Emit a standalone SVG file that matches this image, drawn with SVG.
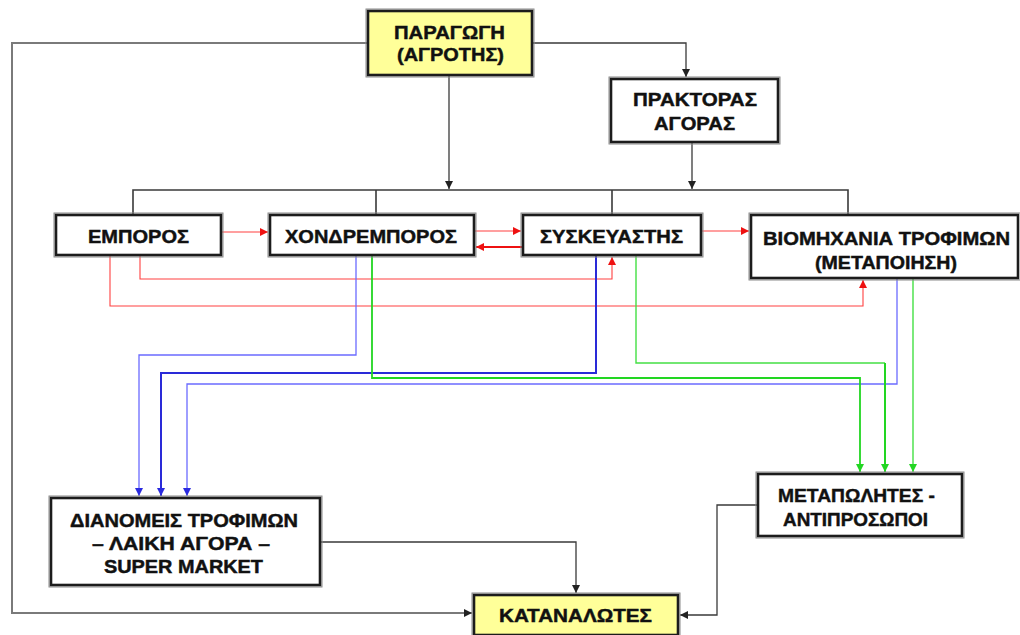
<svg xmlns="http://www.w3.org/2000/svg" width="1020" height="635" viewBox="0 0 1020 635">
<style>
.bg{fill:#ffffff}
.box .o{fill:none;stroke:#8a8a8a;stroke-width:1}
.box .b{fill:#ffffff;stroke:#1c1c1c;stroke-width:2.6}
.box.y .b{fill:#ffff99}
text{font-family:"Liberation Sans",Arial,sans-serif;font-weight:bold;font-size:19px;fill:#111;stroke:#111;stroke-width:0.45}
.k{fill:none;stroke:#3a3a3a;stroke-width:1.3}
.g{fill:none;stroke:#7a7a7a;stroke-width:2}
.r{fill:none;stroke:#ff4040;stroke-width:1.1}
.r2{fill:none;stroke:#ee1111;stroke-width:2}
.bl{fill:none;stroke:#6b6bff;stroke-width:1.3}
.bd{fill:none;stroke:#2a2ad8;stroke-width:2}
.gr{fill:none;stroke:#44e044;stroke-width:1.4}
.gd{fill:none;stroke:#22d622;stroke-width:2}
</style>
<defs>
<marker id="ak" markerUnits="userSpaceOnUse" markerWidth="8" markerHeight="8" refX="8" refY="4" orient="auto"><path d="M0,0 L8,4 L0,8 z" fill="#222"/></marker>
<marker id="ar" markerUnits="userSpaceOnUse" markerWidth="8" markerHeight="8" refX="8" refY="4" orient="auto"><path d="M0,0 L8,4 L0,8 z" fill="#ee1111"/></marker>
<marker id="ab" markerUnits="userSpaceOnUse" markerWidth="8" markerHeight="8" refX="8" refY="4" orient="auto"><path d="M0,0 L8,4 L0,8 z" fill="#2a2ae0"/></marker>
<marker id="ag" markerUnits="userSpaceOnUse" markerWidth="8" markerHeight="8" refX="8" refY="4" orient="auto"><path d="M0,0 L8,4 L0,8 z" fill="#22d622"/></marker>
</defs>
<rect class="bg" x="0" y="0" width="1020" height="635"/>
<g id="connectors">
<path class="g" d="M367,43 H12 V613 H472" marker-end="url(#ak)"/>
<path class="k" d="M533,43 H686 V77" marker-end="url(#ak)"/>
<path class="k" d="M449,76 V189" marker-end="url(#ak)"/>
<path class="k" d="M692,143 V189" marker-end="url(#ak)"/>
<path class="k" d="M133,214 V190 H848 V214 M376,190 V214 M612,190 V214" style="stroke-width:1.6"/>
<path class="k" d="M321,542 H576 V593" marker-end="url(#ak)"/>
<path class="k" d="M757,505 H717 V615 H680" marker-end="url(#ak)"/>
<path class="r" d="M222,232 H268" marker-end="url(#ar)"/>
<path class="r" d="M475,231 H521" marker-end="url(#ar)"/>
<path class="r2" d="M522,247 H476" marker-end="url(#ar)"/>
<path class="r" d="M702,231 H749" marker-end="url(#ar)"/>
<path class="r" d="M140,256 V279 H612 V257" marker-end="url(#ar)"/>
<path class="r" d="M110,256 V306 H863 V280" marker-end="url(#ar)"/>
<path class="bl" d="M356,256 V355 H139 V496" marker-end="url(#ab)"/>
<path class="bd" d="M596,256 V373 H161 V496" marker-end="url(#ab)"/>
<path class="bl" d="M897,279 V384 H187 V496" marker-end="url(#ab)"/>
<path class="gd" d="M372,256 V378 H860 V472" marker-end="url(#ag)" style="stroke-width:1.8"/>
<path class="gr" d="M636,256 V363 H885"/>
<path class="gd" d="M885,363 V472" marker-end="url(#ag)"/>
<path class="gr" d="M913,279 V472" marker-end="url(#ag)"/>
</g>
<g id="paragogi" class="box y">
<rect class="o" x="366" y="9" width="168" height="68"/>
<rect class="b" x="368" y="11" width="164" height="64"/>
<text x="449.5" y="39" text-anchor="middle" textLength="111" lengthAdjust="spacingAndGlyphs">ΠΑΡΑΓΩΓΗ</text>
<text x="450.5" y="61" text-anchor="middle" textLength="107" lengthAdjust="spacingAndGlyphs">(ΑΓΡΟΤΗΣ)</text>
</g>
<g id="praktoras" class="box">
<rect class="o" x="609" y="77" width="171" height="67"/>
<rect class="b" x="611" y="79" width="167" height="63"/>
<text x="695" y="106" text-anchor="middle" textLength="124" lengthAdjust="spacingAndGlyphs">ΠΡΑΚΤΟΡΑΣ</text>
<text x="694.5" y="130" text-anchor="middle" textLength="81" lengthAdjust="spacingAndGlyphs">ΑΓΟΡΑΣ</text>
</g>
<g id="emporos" class="box">
<rect class="o" x="54" y="213" width="169" height="44"/>
<rect class="b" x="56" y="215" width="165" height="40"/>
<text x="138.5" y="243" text-anchor="middle" textLength="101" lengthAdjust="spacingAndGlyphs">ΕΜΠΟΡΟΣ</text>
</g>
<g id="chondremporos" class="box">
<rect class="o" x="268" y="213" width="208" height="44"/>
<rect class="b" x="270" y="215" width="204" height="40"/>
<text x="371" y="243" text-anchor="middle" textLength="172" lengthAdjust="spacingAndGlyphs">ΧΟΝΔΡΕΜΠΟΡΟΣ</text>
</g>
<g id="syskevastis" class="box">
<rect class="o" x="521" y="213" width="182" height="44"/>
<rect class="b" x="523" y="215" width="178" height="40"/>
<text x="611.5" y="243" text-anchor="middle" textLength="143" lengthAdjust="spacingAndGlyphs">ΣΥΣΚΕΥΑΣΤΗΣ</text>
</g>
<g id="viomichania" class="box">
<rect class="o" x="749" y="213" width="272" height="67"/>
<rect class="b" x="751" y="215" width="267" height="63"/>
<text x="886.5" y="245" text-anchor="middle" textLength="247" lengthAdjust="spacingAndGlyphs">ΒΙΟΜΗΧΑΝΙΑ ΤΡΟΦΙΜΩΝ</text>
<text x="886" y="269" text-anchor="middle" textLength="142" lengthAdjust="spacingAndGlyphs">(ΜΕΤΑΠΟΙΗΣΗ)</text>
</g>
<g id="diano" class="box">
<rect class="o" x="49" y="496" width="273" height="91"/>
<rect class="b" x="51" y="498" width="269" height="87"/>
<text x="184" y="527" text-anchor="middle" textLength="228" lengthAdjust="spacingAndGlyphs">ΔΙΑΝΟΜΕΙΣ ΤΡΟΦΙΜΩΝ</text>
<text x="181" y="550" text-anchor="middle" textLength="178" lengthAdjust="spacingAndGlyphs">– ΛΑΙΚΗ ΑΓΟΡΑ –</text>
<text x="183.5" y="573" text-anchor="middle" textLength="159" lengthAdjust="spacingAndGlyphs">SUPER MARKET</text>
</g>
<g id="metapolites" class="box">
<rect class="o" x="756" y="472" width="208" height="66"/>
<rect class="b" x="758" y="474" width="204" height="62"/>
<text x="856.5" y="502" text-anchor="middle" textLength="157" lengthAdjust="spacingAndGlyphs">ΜΕΤΑΠΩΛΗΤΕΣ -</text>
<text x="855.5" y="526" text-anchor="middle" textLength="145" lengthAdjust="spacingAndGlyphs">ΑΝΤΙΠΡΟΣΩΠΟΙ</text>
</g>
<g id="katanalotes" class="box y">
<rect class="o" x="472" y="593" width="208" height="44"/>
<rect class="b" x="474" y="595" width="204" height="40"/>
<text x="575.5" y="622" text-anchor="middle" textLength="153" lengthAdjust="spacingAndGlyphs">ΚΑΤΑΝΑΛΩΤΕΣ</text>
</g>
</svg>
